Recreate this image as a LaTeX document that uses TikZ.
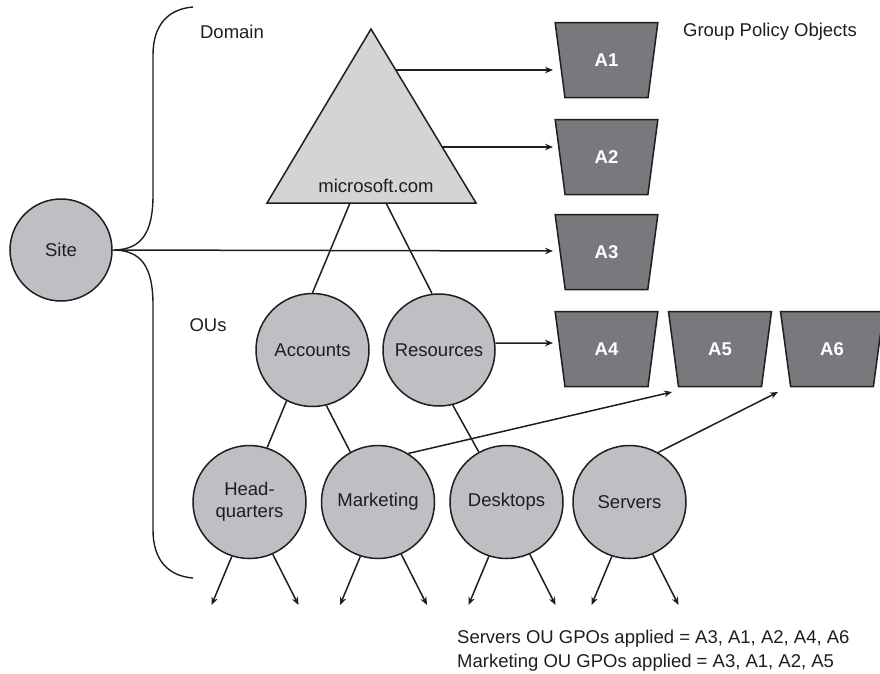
\documentclass[tikz,border=0pt]{standalone}
\usepackage{fontspec}
\setmainfont{Liberation Sans}
\usetikzlibrary{arrows.meta,calc,shapes.geometric}

\definecolor{oufill}{RGB}{190,191,195}
\definecolor{domfill}{RGB}{211,212,214}
\definecolor{gpofill}{RGB}{120,121,124}
\definecolor{inkline}{RGB}{30,30,30}

\tikzset{
  lbl/.style={font=\fontsize{18.5}{22}\selectfont, text=inkline, inner sep=0pt},
  ou/.style={circle, draw=inkline, line width=1.5pt, fill=oufill, inner sep=0pt,
             minimum size=113pt, align=center, text=inkline,
             font=\fontsize{18.5}{22}\selectfont},
  gpo/.style={trapezium, shape border rotate=180, trapezium angle=77.6,
              trapezium stretches=true, minimum width=103pt, minimum height=75pt,
              draw=inkline, line width=1.5pt, fill=gpofill, inner sep=0pt,
              text=white, font=\fontsize{18.5}{22}\selectfont\bfseries},
  link/.style={draw=inkline, line width=1.5pt},
  arr/.style={link, -{Stealth[length=8pt,width=6.5pt]}},
}

\begin{document}
\begin{tikzpicture}[x=1pt,y=-1pt]
\useasboundingbox (0,0) rectangle (880,673);

% domain triangle
\filldraw[fill=domfill, draw=inkline, line width=1.5pt, line join=miter]
  (371,29) -- (476,203) -- (267,203) -- cycle;
\node[lbl] (dom) at (376,186) {microsoft.com};
\coordinate (t1) at (396,70);
\coordinate (t2) at (442,147);
\coordinate (b1) at (350,203);
\coordinate (b2) at (386,203);

% brace grouping domain and OUs under the site
\draw[inkline, line width=1.4pt]
  (193,7) .. controls (168,9) and (153,25) .. (153,55) -- (153,195)
  .. controls (153,235) and (140,249) .. (115,250)
  .. controls (140,251) and (153,265) .. (153,305) -- (153,530)
  .. controls (153,560) and (168,576) .. (193,578);

% headings
\node[lbl] (domlbl) at (232,32) {Domain};
\node[lbl] (gpolbl) at (770,32) {Group Policy Objects};
\node[lbl] (oulbl) at (208,325) {OUs};

% site and organizational units
\node[ou, minimum size=102pt] (site) at (61,250) {Site};
\node[ou] (acc) at (312.5,350) {Accounts};
\node[ou, minimum size=112pt] (res) at (439,350) {Resources};
\node[ou] (hq) at (249.5,502) {Head-\\quarters};
\node[ou] (mkt) at (378,502) {Marketing};
\node[ou] (desk) at (506.5,502) {Desktops};
\node[ou] (srv) at (629.5,502) {Servers};

% group policy objects
\node[gpo] (a1) at (606.5,60) {A1};
\node[gpo] (a2) at (606.5,157) {A2};
\node[gpo] (a3) at (606.5,252) {A3};
\node[gpo] (a4) at (606.5,349) {A4};
\node[gpo] (a5) at (720,349) {A5};
\node[gpo] (a6) at (832,349) {A6};

% arrow tips pointing at the GPOs
\coordinate (e1) at (553,70);
\coordinate (e2) at (553,147);
\coordinate (e3) at (553,251);
\coordinate (e4) at (553,343);
\coordinate (e5) at (672,392);
\coordinate (e6) at (778,392);

\draw[arr] (t1) -- (e1);
\draw[arr] (t2) -- (e2);
\draw[arr] (site.east) -- (e3);
\draw[arr] (res.7) -- (e4);
\draw[arr] (mkt.58) -- (e5);
\draw[arr] (srv.60) -- (e6);

% hierarchy links
\draw[link] (b1) -- (acc.north);
\draw[link] (b2) -- (res.97);
\draw[link] (acc.-117) -- (hq.72);
\draw[link] (acc.-76) -- (mkt.119);
\draw[link] (res.-76) -- (desk.119);

% child containers below each OU
\foreach \n in {hq,mkt,desk,srv} {
  \coordinate (\n-l) at ($(\n)+(-38,103)$);
  \coordinate (\n-r) at ($(\n)+(49,103)$);
  \draw[arr] (\n.-108) -- (\n-l);
  \draw[arr] (\n.-66) -- (\n-r);
}

% summary
\node[lbl, anchor=base west] (sum1) at (457,643) {Servers OU GPOs applied = A3, A1, A2, A4, A6};
\node[lbl, anchor=base west] (sum2) at (457,667) {Marketing OU GPOs applied = A3, A1, A2, A5};
\end{tikzpicture}
\end{document}
